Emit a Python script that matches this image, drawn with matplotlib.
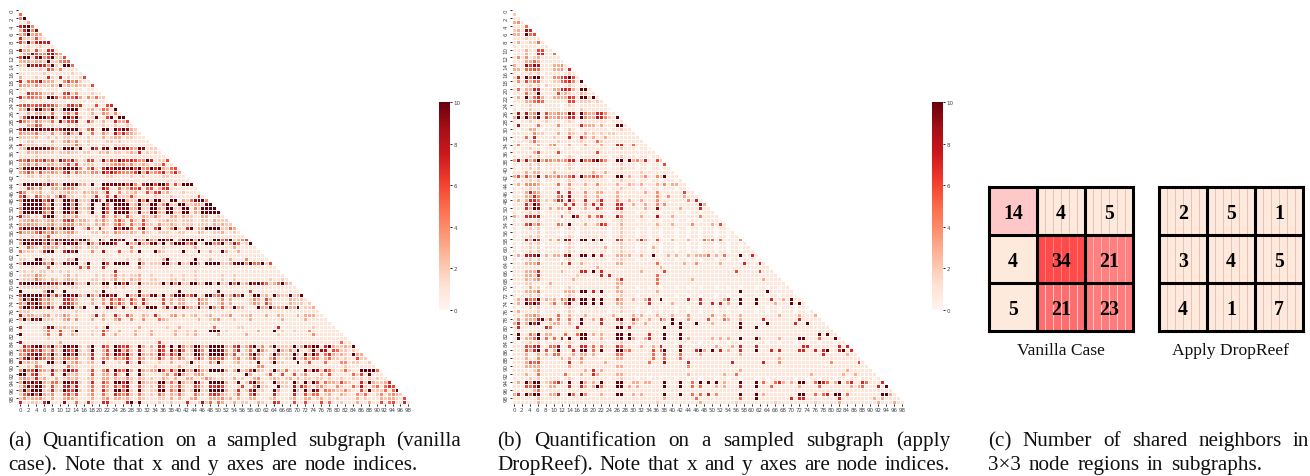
#!/usr/bin/env python3
"""Shared-neighbour heatmaps for a sampled subgraph, plus 3x3 region counts."""
import matplotlib
matplotlib.use("Agg")
import matplotlib.pyplot as plt
import numpy as np
from matplotlib.patches import Rectangle

W, H = 1310, 477

# "row: cells", one hex digit per cell from column 0 on, a = 10 and up
VANILLA_ROWS = """
1: 5
2: 4a
3: 113
4: 79a4
5: 37a49
6: 34a343
7: 7222621
8: 63a37878
9: 112112111
10: 8331621771
11: 1349644895 3
12: 6aa28a46a2 26
13: 3332332a22 455
14: 22a78874a2 1aa5
15: 1111121641 41111
16: 1111112111 111211
17: 3111211721 7121126
18: 7155683331 14645211
19: 4332422232 923232216
20: 1101110111 0110110110
21: 1175542231 1672411121 1
22: 7355442aa6 2545731425 22
23: 1101111011 1101111011 110
24: 5665667664 2267571116 1167
25: 33a3aa54a2 2aaaa11231 2541a
26: 1131332151 1352611131 143141
27: 26aaaaa6a3 1aa6a2112a 116a1aa
28: 7432532251 9366811731 13117336
29: 1133651121 1121211111 121121121
30: 7aaaaa89a5 7aa9a21571 1aa1a7a932
31: 4333522141 2483281151 1421847432 1
32: 2222311212 1221211211 1312331221 11
33: 1122111131 1342411211 1122121111 111
34: 7222212121 1222521211 1211212111 1111
35: 23a9a9a863 2a9a3a1196 19a1a79943 a9122
36: 1132322221 2232212211 3231221232 712121
37: 1111211111 1111111111 1111111111 1111111
38: 5574657462 9658312661 29365a7676 44a71226
39: 2342422332 2362612221 1223444242 232122611
40: 39aaaaa6a5 5aa9a41472 17a7a9a8a6 a45a7a3256
41: 3464263343 2682533244 2868654446 a373457247 3
42: 1122121211 1121111111 1122111121 1211112211 11
43: 1111111211 1111111111 1111111111 1111111111 111
44: 2aaaaa6a64 2aa8a331a1 1aa9a9a6a4 17aa6aa616 2aaa
45: 1164241133 2444211122 2861152365 7156136711 11111
46: 6412231121 2232213233 1271141223 1162672311 121111
47: 5821642313 9622112127 1161822262 1111211121 1111161
48: 4aaaaa57a2 2aa5a222aa 61aaaaa322 a4a2aa21aa 13259aa4
49: 2aaaaa53a2 2aa4a212a1 1a51aaaa23 a22aa24a22 aa22332aa
50: 4aaaaa65a1 2aa4a223a1 1a61a7aa33 a22aa32aa2 2aa142aaaa
51: 3aaaaa53a2 2aa5a212a1 1a51aaaa22 a22aa32aa2 2aa132aaaa a
52: 7331217aa2 1322411112 1621421621 1322421133 1322113311 21
53: 2334322342 2676233213 2421463152 1621122322 1222112213 222
54: 3343322342 2444232213 2421463152 2622142232 1222122213 2322
55: 6a98a9a5a3 5a8a112721 7211a6aa51 5a216a124a 217a133aaa a2253
56: 5333574353 2344211122 1321432232 1421122211 2211132112 231121
57: 1112122611 1121111111 1111111111 1111111111 1111111111 1111111
58: 5a8a8a6a5a 7a7a5aa511 a31aa7a11a 33a43aa7a1 4aaa3aa12a a56a2346
59: 3aa7aa5a37 3aa8a32a42 7aaa711a33 a339a2a14a aa46a12aa4 5a238512a
60: 1153213333 1212321222 1111111141 1111112111 1111311111 1111311111
61: 5222127aa1 17a7a11141 1811161131 a111a32111 1a111a1131 1a31131111 1
62: 1111111111 1110111111 1111011111 1101111111 1111101111 1111111111 11
63: 2211aa2131 1132a11111 1211111211 3111113a11 1111a11131 1113111411 111
64: 3aaaaa53a2 2a8aa12a11 1a61aaaa11 a31222aa22 a22aa31aaa a2239aa4a5 5a26
65: 1112111611 1111162611 1711111111 4111111111 1111111111 1111111111 11111
66: 1212122121 2121111111 1111711111 1111111111 1111211111 1111111111 111111
67: 1222432111 1231211112 1212512122 3112111121 1211211111 1211211111 1111111
68: 1222532132 1232211122 1212412132 3112211122 1211211111 1211211111 11121121
69: 7aaaaa7a77 4a8a322a22 2aa1aa6a22 a22222a2a4 a22aa32aa2 a22a5a23a8 a75235a32
70: 1222222222 1112211111 1221212111 2111111111 1111111111 1111111111 1111111111
71: a111113aa1 1a11111112 1a11111111 a111111111 a111111111 a111111161 1111111111 1
72: 6aa9aa5a37 3aa8a32a42 7aa7a11a33 a339a2a14a aa46a12aa4 5a2385a12a a231a322a2 3a
73: 3a5aa63421 1775311131 1416363163 1721116131 3311163311 2413111124 3163111132 221
74: 4397a63421 1775311131 1416363163 1721116131 3311163311 2413111124 3163111132 2212
75: 4aa6aa5a51 8a9a23a11a 22aa41a21a 32aaa1392a 4a432a22a4 2622a33111 a33a333a33 a1223
76: 2221111111 1111211111 1111111111 1111111111 1111111111 1111111111 1111111111 111111
77: 8233223412 2431211128 1311721631 1321721134 1312311231 1224112231 1131132111 3133311
78: 3a3a8a2221 1341411131 1311351141 1411153211 1111131123 4111211131 1111113111 11311111
79: 1111111111 1111111111 1111111111 1111111111 1111111111 1111111111 1111111111 111111111
80: 7111113992 2322211112 12a1111111 3111111211 3111111115 1111122111 1111171111 1111211111
81: 1111112511 6113a11121 1631131113 1113111113 11213111aa a121111111 3111a12112 1114111111 1
82: a111112511 6113211121 1611311113 1113111113 1121311111 3111111311 1111121111 1111411111 11
83: 1111111211 1111111111 1111111111 1111111111 1111111111 1111111111 1111111111 1111111111 111
84: 8111111111 3111111111 1111111111 1111161111 1111111111 1111111111 1111111111 1111111111 1511
85: 1758aa45a3 3aa8a213a1 1751a76721 a313187 1a1 a423aa33aa aa3268236a 2413a2222a 23a6aa17a3 2232a
86: 3657573262 2a75a212a1 1361a93621 82122861a4 a512a841aa a931481251 a4212a3242 a112a29816 522121
87: 4478a844a3 2aa6a22271 1362a76a31 a3232a6274 a222aa42aa aa4261226a 4212a4222a 31a3a61573 2321a33
88: 37a5a65372 2553511271 1441534721 5312273142 5311483155 5621351247 3113621 22a 2252541352 21211622
89: 9232311aa2 2a23421231 1911121821 a211121131 112a121142 a211231121 a112a22111 a126111511 144122112
90: 1121531121 1152211121 1111111111 1111211111 3111131111 1111111111 4411111111 1111111111 1121111111
91: 4a56a43283 27a7611261 1471a65a31 a3233a6273 aa33a632aa aa313a236a 3212a32512 21a3a82752 125211aaaa 5
92: aa26821171 1a32311161 1331721a11 a211112415 a321343111 1211111a31 1126116116 1241113161 11115261a1 11
93: 3432723113 1232311231 1331322421 3212113213 1133112432 1211312113 4112321231 3122122121 1211212121 211
94: 3a7a8a3255 2aa7921271 1641aa7a21 a3222aa252 a322a821aa aa312a127a 4211a3221a 31a2a61533 26321172a3 2237
95: 25a6aa3162 1783811251 1531636811 6212185132 6211652177 8621126115 a2211a2218 2752134211 4211528213 51576
96: 3a4aaa2272 2a76a21251 1731aa5a21 a2122aa153 a312aa22aa aa3127127a 2211a3111a 31a2a81543 22421162a2 22515a
97: 257a6a3241 1563611241 1521754621 5212153132 5211532167 6321251158 2111721117 2162551231 1321142511 2413432
98: 2423342131 1343211131 1341332311 3211122131 3113411133 3423131133 1112311123 1133123121 2111131211 13233216
99: 7112217a11 1911511721 17711117a1 a111121121 1171128251 5311312211 3211761116 1161116151 1211131131 161561171
"""

DROPREEF_ROWS = """
1: 2
2: 11
3: 341
4: 1115
5: 23197
6: 331a56
7: 1112111
8: 13112251
9: 101111011
10: 1113116611
11: 1113117711 5
12: 1414123111 11
13: 1113353111 111
14: 3119698111 3341
15: 3315565111 33417
16: 1011212011 110121
17: 271a5aa211 4467a61
18: 1416355111 2256741a
19: 1011212021 110121011
20: 1513377111 3377731aa1
21: 111522a111 1623211321 1
22: 131a257311 3333761aa2 a1
23: 1113356511 1111661222 121
24: 1011211011 1101210111 1111
25: 1011211011 1101110211 11110
26: 181834a163 3433a71a43 377411
27: 3a2a35a163 3433771a43 387421a
28: 1011211121 1101210111 11110111
29: 1811115111 1411111733 313111aa1
30: 1011331011 1101210111 1111011211
31: 1111142211 1311321131 2121221111 1
32: 1115171111 2111711731 3113111111 11
33: 1111252111 1211111211 1521111111 111
34: 1411113113 4111311131 1131117711 5111
35: 1011211011 1101110111 1111011211 10110
36: 1111136111 1611111111 1611111111 111111
37: 1011212011 1101210111 1111011211 1011011
38: 382835a354 3434771a55 8a6411aa1a 34271162
39: 1011212011 1101210111 1111011211 101101106
40: 1011212011 1101210111 1111011211 1011011011
41: 1113133111 3111111111 3113111111 1121111111 1
42: 362633a153 3533571a44 653111aa13 11241142a1 11
43: 1011212011 1101210111 1111011211 1011011011 101
44: 1314443111 1511411131 1411113113 2131113141 3311
45: 1011212011 1101210111 1111011211 1011011011 10110
46: 1113743111 1711711141 1331113111 1113114111 111611
47: 1113374111 1461911131 1311113111 1111114114 1113111
48: 1313775121 3771931171 1371114113 1131114111 11114171
49: 11173a7111 1116171141 7171117711 3113114141 111111193
50: 11173a9113 1331711131 1731117711 1113119111 1131111711
51: 1011212011 1101210111 1111011211 1011011011 1011011011 1
52: 3117778111 11511a7115 1571118411 1131118111 3111111411 11
53: 1011112011 1101110111 1111011211 1011011011 1011011011 110
54: 1116735111 1541a11131 1376111311 1111113111 3111141111 3161
55: 1011212011 1101210111 1111011211 1011011011 1011011011 10110
56: 1011112011 1101110111 1111011211 1011011011 1011011011 101101
57: 1011212011 1101210111 1111011211 1011011011 1011011011 1011011
58: 11183a7113 1419811aa1 a2a1117512 1373116111 3111311153 51511114
59: 1011212011 1101210111 1111011211 1011011011 1011011011 101101101
60: 1011212011 1101210111 1113011211 1011031011 1011011011 1011011011
61: 1011212011 1101210111 1111011211 1011011011 1011011011 1011011011 1
62: 131878a131 3317a11aa1 a171113323 11311a1113 1311313335 1315111a11 71
63: 1011212011 1101210111 1111011211 1011011011 1011011011 1011011011 101
64: 1113335111 1131711311 1111113311 1111115111 1113114111 1131111171 1171
65: 1111111111 1111111111 1311111111 1111111311 1111111111 1111111111 11111
66: 1113337111 1131111771 a171111111 1131111161 1111111111 1111116111 116111
67: 1113327111 1111112111 1171711111 1111115111 1111111111 1111111111 1111111
68: 1113234111 1111131111 1111113711 1111115111 1111131111 1111111111 11131111
69: 1112211113 1111111111 1111113311 1111115111 1111111111 1111111111 111111111
70: 1011312011 1101210111 1111113111 1011011011 1011011011 1011011011 1011011011
71: 1113335111 1113331aa1 71a1113311 1111113111 1111111111 1111111a11 1111a11111 1
72: 1011212011 1101210111 1111011211 1011011011 1011011011 1011011011 1011011011 10
73: 131855a132 3153a71aa1 a1a1115311 3113711a11 1111711711 1113711a11 1a11171131 a11
74: 131a7a7112 5125a11aa1 a1a1113311 1111711111 3111111711 7171311a11 1a11113111 a1a1
75: 1011212011 1101210111 1111011211 1011011011 1011011011 1011011011 1011011011 10110
76: 1311112011 1101210111 1111011211 1011011011 1011011011 1011011011 1011011011 101101
77: 1113343111 1511311131 1111131111 3131113111 3111411111 4113111311 1111111311 1131113
78: 1413337a25 1511511a11 3171117a11 7311311631 a111411116 1115311311 1117111111 11711111
79: 3713a7a112 3311311a11 1171111311 3113111111 a1a111a111 3111111a11 1111a11111 1711a1111
80: 1711111175 1111117111 111111aa17 11111111a1 11a1111111 1111111a11 1a11111111 1111111111
81: 1111111111 1111111111 1111111111 1111111111 1111111111 1111111111 1111111111 1111111111 1
82: 1a1153a133 1115115aa1 313111aa1a 11117111a1 11a1111111 1111111111 1111111111 1111111a1a 11
83: 1a1335a151 5171a11aa1 113111aa1a 31137111a1 11a1311111 3131311a11 1a31111311 11aa111511 1a1
84: 1011212011 1101210111 1111011211 1011011011 1011011011 1011011011 1011011011 1011011011 1011
85: 1116578115 5811611771 5151117511 1131131711 1171111111 1311131711 1711111111 1117711111 11717
86: 111637a161 3a11171aa1 51a111aa35 11111615a1 11a1117a31 a171311711 1a11171711 117711717a 117a17
87: 1113113131 5511131331 3111115511 1111151161 1151111311 1111111311 1111111111 1111111171 1111311
88: 1113114111 1131311411 1111113311 1111151151 1151111111 1111111111 1111111311 1111111111 11111111
89: 1113656111 1111711311 1113111111 1111511181 1111711111 1111171111 1117111411 1111111111 411111161
90: 1113333111 1111311111 1111113311 1111111111 1111411111 1111111111 1111111111 1111111111 1111111111
91: 1111124111 1111111131 7131111111 1111111111 1111111111 1111111311 1111111111 1111111111 1111311111 1
92: 1113115111 1115111311 7311113311 1111111111 1111311111 1113115111 1111111111 1111131111 1113113111 11
93: 1011212011 1101210111 1111011211 1011011011 1011011011 1011011011 1011011011 1011011011 1011011011 101
94: 131a4aa123 5731a11a31 31a111aa11 33133111a1 11a1151a1a 1a13111a11 1a15115731 31aa115a75 13a1471175 1117
95: 111657a113 3111711731 3a5111aa13 13111111a1 11a1151511 1313111711 1a11151111 1131111511 1111131351 1171a
96: 1111135111 1111111111 1111111111 1111111111 1111111111 1111111111 1111111111 1111111111 1111111111 111111
97: 371a5aa113 3711a51a41 113111aa11 31311111a1 11a1151517 1411111a11 1a13111111 11aa115157 1aa1511111 111aa31
98: 1111113111 1111111111 1111111111 1111111131 1111115111 1111111511 1a11111111 7177111111 1171111111 13131111
99: 1111113111 1111111111 1111111111 1111112111 1111111311 1111112111 1111112111 1111112111 1131111111 113111311
"""

REGION_VANILLA = [[14, 4, 5], [4, 34, 21], [5, 21, 23]]
REGION_DROPREEF = [[2, 5, 1], [3, 4, 5], [4, 1, 7]]
VANILLA_FILL = [["#fec8c8", "#fdeadc", "#fdeadc"],
                ["#fdeadc", "#ff4b4b", "#ff8080"],
                ["#fdeadc", "#fe6e6e", "#ff7c7c"]]
DROPREEF_FILL = "#fdeadc"
VANILLA_STRIPE = [[None, "#e8b8b0", "#e8b8b0"],
                  [None, "#ff8a8a", "#ffc0c0"],
                  [None, "#ffe0e0", "#ffe0e0"]]
DROPREEF_STRIPE = "#e8b8b0"

CAPTION_A = ["(a) Quantification on a sampled subgraph (vanilla",
             "case). Note that x and y axes are node indices."]
CAPTION_B = ["(b) Quantification on a sampled subgraph (apply",
             "DropReef). Note that x and y axes are node indices."]
CAPTION_C = ["(c) Number of shared neighbors in",
             "3\u00d73 node regions in subgraphs."]

SERIF = "Liberation Serif"
CAPTION_SIZE = 15.2


def parse_rows(block):
    mat = np.full((100, 100), np.nan)
    for line in block.strip().splitlines():
        idx, cells = line.split(":")
        i = int(idx)
        digits = [int(c, 16) for c in cells.replace(" ", "")[:i]]
        digits += [0] * (i - len(digits))
        mat[i, :i] = digits
    return mat


def box(fig, x0, y0, x1, y1):
    return fig.add_axes([x0 / W, 1 - y1 / H, (x1 - x0) / W, (y1 - y0) / H])


def heatmap(fig, mat, x0, cb_x0):
    ax = box(fig, x0, 9, x0 + 396, 404.7)
    mesh = ax.pcolormesh(np.ma.masked_invalid(mat), cmap="Reds", vmin=0, vmax=10,
                         edgecolors="white", linewidth=0.5)
    ax.set_xlim(0, 100)
    ax.set_ylim(100, 0)
    for side in ax.spines.values():
        side.set_visible(False)
    ticks = np.arange(0, 100, 2)
    ax.set_xticks(ticks + 0.5, [str(t) for t in ticks])
    ax.set_yticks(ticks + 0.5, [str(t) for t in ticks], rotation=90, va="center")
    ax.tick_params(length=1.5, width=0.6, labelsize=4, pad=1, labelcolor="#444444")

    cax = box(fig, cb_x0, 103, cb_x0 + 11, 311)
    cb = fig.colorbar(mesh, cax=cax)
    cb.set_ticks(np.arange(0, 11, 2))
    cb.ax.tick_params(length=1.5, width=0.6, labelsize=4, pad=1, labelcolor="#444444")
    cb.outline.set_visible(False)


def region_grid(fig, x0, counts, fills, stripes, label):
    ax = box(fig, x0, 188, x0 + 144, 332)
    ax.set_xlim(0, 3)
    ax.set_ylim(3, 0)
    ax.axis("off")
    for r, row in enumerate(counts):
        for c, val in enumerate(row):
            fill = fills if isinstance(fills, str) else fills[r][c]
            stripe = stripes if isinstance(stripes, str) else stripes[r][c]
            ax.add_patch(Rectangle((c, r), 1, 1, facecolor=fill, edgecolor="none"))
            if stripe:
                ax.vlines(c + np.arange(1, 6) / 6, r, r + 1, color=stripe, linewidth=0.6)
            ax.text(c + 0.5, r + 0.5, str(val), ha="center", va="center_baseline",
                    family=SERIF, weight="bold", fontsize=14.2, color="black")
    for k in range(4):
        ax.plot([k, k], [0, 3], color="black", lw=2.2, clip_on=False, solid_capstyle="projecting")
        ax.plot([0, 3], [k, k], color="black", lw=2.2, clip_on=False, solid_capstyle="projecting")
    fig.text((x0 + 72) / W, 1 - 351 / H, label, ha="center", va="center", family=SERIF,
             fontsize=12.6, color="#111111")


def justified(fig, line, x0, x1, y):
    # lay out word by word, the way the paper's two-line captions are set
    words = line.split(" ")
    rend = fig.canvas.get_renderer()
    parts = [fig.text(0, 1 - y / H, w, family=SERIF, fontsize=CAPTION_SIZE, va="baseline",
                      color="#111111") for w in words]
    widths = [p.get_window_extent(rend).width for p in parts]
    gap = (x1 - x0 - sum(widths)) / (len(words) - 1)
    x = x0
    for p, w in zip(parts, widths):
        p.set_x(x / W)
        x += w + gap


fig = plt.figure(figsize=(W / 100, H / 100), dpi=100, facecolor="white")

heatmap(fig, parse_rows(VANILLA_ROWS), 18.3, 439)
heatmap(fig, parse_rows(DROPREEF_ROWS), 512, 932)

region_grid(fig, 989, REGION_VANILLA, VANILLA_FILL, VANILLA_STRIPE, "Vanilla Case")
region_grid(fig, 1159, REGION_DROPREEF, DROPREEF_FILL, DROPREEF_STRIPE, "Apply DropReef")

justified(fig, CAPTION_A[0], 8, 461, 446)
justified(fig, CAPTION_A[1], 8, 418, 470)
justified(fig, CAPTION_B[0], 497, 950, 446)
justified(fig, CAPTION_B[1], 497, 950, 470)
justified(fig, CAPTION_C[0], 988, 1309, 446)
justified(fig, CAPTION_C[1], 988, 1262, 470)

fig.savefig("out.png", dpi=100)
plt.close(fig)
